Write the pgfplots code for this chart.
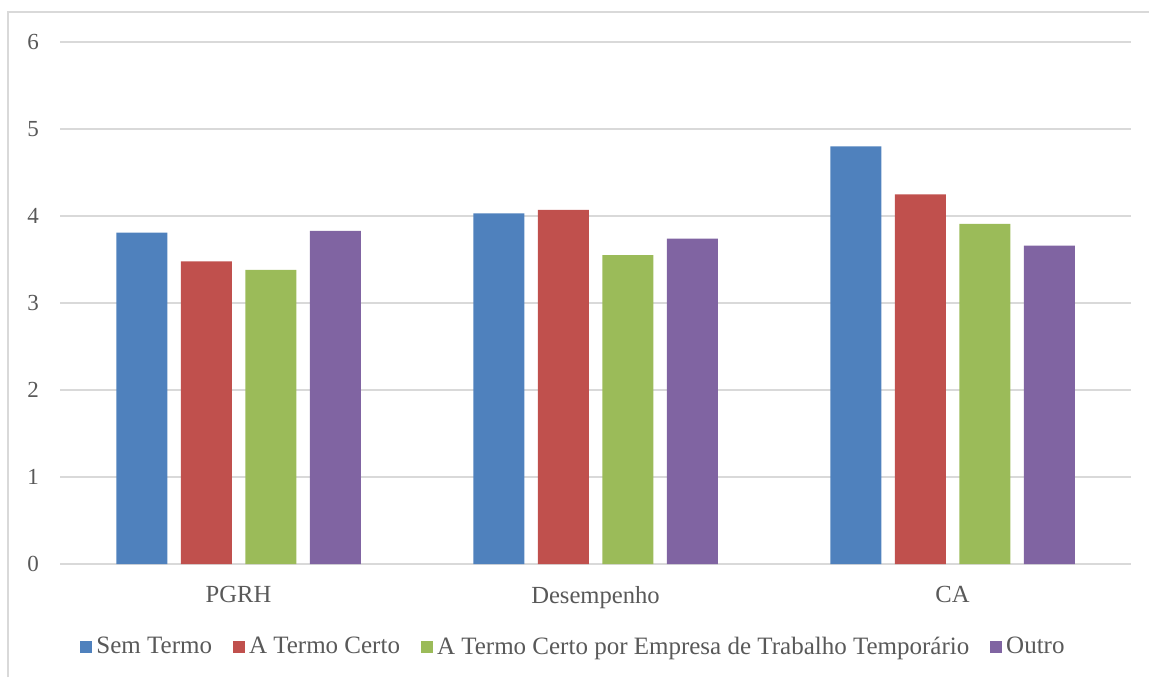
\documentclass[border=0pt]{standalone}
\usepackage{pgfplots}
\pgfplotsset{compat=1.18}
\usepackage{fontspec}
\setmainfont{Liberation Serif}
\definecolor{gridgray}{HTML}{D9D9D9}
\definecolor{textgray}{HTML}{595959}
\definecolor{cblue}{HTML}{4F81BD}
\definecolor{cred}{HTML}{C0504D}
\definecolor{cgreen}{HTML}{9BBB59}
\definecolor{cpurple}{HTML}{8064A2}

\pgfplotstableread{
x  semtermo  termocerto  empresa  outro
0  3.81      3.48        3.38     3.83
1  4.03      4.07        3.55     3.74
2  4.80      4.25        3.91     3.66
}\datatable

\begin{document}
\begin{tikzpicture}[font=\fontsize{11.5}{13}\selectfont]
\useasboundingbox (0,0) rectangle (574.5pt,338.5pt);
% outer chart frame
\draw[gridgray, line width=0.8pt] (4pt,0) -- (4pt,332.5pt) -- (580pt,332.5pt);
\begin{axis}[
  at={(30pt,56.5pt)}, anchor=south west,
  scale only axis,
  width=535.5pt, height=261pt,
  ymin=0, ymax=6, ytick={0,1,...,6},
  xmin=-0.5, xmax=2.5,
  xtick=data, xticklabels={PGRH,Desempenho,CA},
  ybar=6.75pt, bar width=25.5pt,
  axis line style={draw=none},
  axis x line*=bottom,
  ymajorgrids, grid style={gridgray, line width=0.8pt},
  major tick length=0pt,
  tick label style={textgray},
  yticklabel style={xshift=-7pt},
  xticklabel style={yshift=-7.5pt, font=\fontsize{12.3}{14}\selectfont},
  /pgf/number format/assume math mode=true,
  legend style={at={(0.4804,-0.159)}, anchor=center, draw=none,
    legend columns=-1, text=textgray, fill=none,
    font=\fontsize{12.5}{14}\selectfont,
    /tikz/every even column/.append style={column sep=8.5pt}},
  legend image code/.code={\fill[#1] (0pt,-3pt) rectangle (6pt,3pt);},
  legend cell align=left,
]
\draw[gridgray, line width=0.8pt] (axis cs:-0.5,0) -- (axis cs:2.5,0);
\addplot[fill=cblue, draw=none] table[x=x, y=semtermo] {\datatable};
\addplot[fill=cred, draw=none] table[x=x, y=termocerto] {\datatable};
\addplot[fill=cgreen, draw=none] table[x=x, y=empresa] {\datatable};
\addplot[fill=cpurple, draw=none] table[x=x, y=outro] {\datatable};
\legend{Sem Termo, A Termo Certo, A Termo Certo por Empresa de Trabalho Temporário, Outro}
\end{axis}
\end{tikzpicture}
\end{document}
